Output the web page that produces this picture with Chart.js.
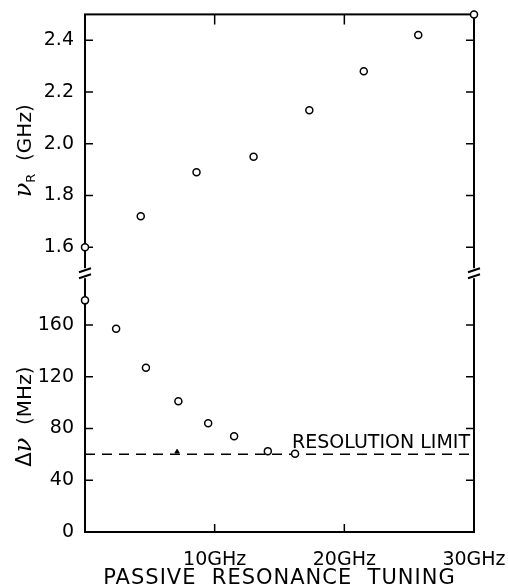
<!DOCTYPE html>
<html>
<head>
<meta charset="utf-8">
<script src="https://cdn.jsdelivr.net/npm/chart.js@4.4.1/dist/chart.umd.min.js"></script>
<style>
  body { margin: 0; background: #fff; }
  canvas { display: block; }
</style>
</head>
<body>
<canvas id="chart" width="508" height="588"></canvas>
<script>
// upper panel: nu_R (GHz) vs passive resonance tuning (GHz)
const tuningTop = [0, 4.3, 8.6, 13.0, 17.3, 21.5, 25.7, 30];
const nuR = [1.6, 1.72, 1.89, 1.95, 2.13, 2.28, 2.42, 2.5];

// lower panel: delta nu (MHz)
const tuningBottom = [0, 2.4, 4.7, 7.2, 9.5, 11.5, 14.1, 16.2];
const deltaNu = [179, 157, 127, 101, 84, 74, 62.5, 60.5];

// small filled mark sitting on the resolution line
const markX = [7.1];
const markY = [62];

const resolutionLimit = 60;

const xTicks = [0, 10, 20, 30];
const topTicks = [1.6, 1.8, 2.0, 2.2, 2.4];
const bottomTicks = [0, 40, 80, 120, 160];

const FONT = "'DejaVu Sans', sans-serif";

const pts = (xs, ys) => xs.map((x, i) => ({ x: x, y: ys[i] }));

// frame, inward ticks, axis breaks and the hand-set labels
const frame = {
  id: 'frame',
  beforeDatasetsDraw(chart) {
    const { ctx, chartArea: a, scales } = chart;
    const x = scales.x, yt = scales.yTop, yb = scales.yBot;
    ctx.save();
    ctx.strokeStyle = '#000';
    ctx.lineWidth = 2;
    ctx.strokeRect(a.left, a.top, a.right - a.left, a.bottom - a.top);

    ctx.lineWidth = 1.5;
    ctx.beginPath();
    xTicks.forEach(v => {
      if (v <= x.min || v >= x.max) return;
      const px = x.getPixelForValue(v);
      ctx.moveTo(px, a.top); ctx.lineTo(px, a.top + 10);
      ctx.moveTo(px, a.bottom); ctx.lineTo(px, a.bottom - 8);
    });
    [[yt, topTicks], [yb, bottomTicks]].forEach(([s, vals]) => {
      vals.forEach(v => {
        if (v <= s.min) return;
        const py = s.getPixelForValue(v);
        ctx.moveTo(a.left, py); ctx.lineTo(a.left + 8, py);
        ctx.moveTo(a.right, py); ctx.lineTo(a.right - 8, py);
      });
    });
    ctx.stroke();

    // break marks where the two scales meet
    const yb0 = yt.bottom;
    [a.left, a.right].forEach(px => {
      ctx.fillStyle = '#fff';
      ctx.fillRect(px - 3, yb0 - 5, 6, 10);
      ctx.beginPath();
      ctx.moveTo(px - 6, yb0 - 1); ctx.lineTo(px + 6, yb0 - 5);
      ctx.moveTo(px - 6, yb0 + 5); ctx.lineTo(px + 6, yb0 + 1);
      ctx.lineWidth = 2;
      ctx.stroke();
    });
    ctx.restore();
  },
  afterDraw(chart) {
    const { ctx, chartArea: a, scales } = chart;
    const yt = scales.yTop, yb = scales.yBot;
    ctx.save();
    ctx.fillStyle = '#000';

    const rotated = (cy, parts) => {
      ctx.save();
      ctx.translate(31, cy);
      ctx.rotate(-Math.PI / 2);
      ctx.textBaseline = 'alphabetic';
      ctx.textAlign = 'left';
      let total = 0;
      parts.forEach(p => { ctx.font = p.font; p.w = ctx.measureText(p.t).width; total += p.w; });
      let cx = -total / 2;
      parts.forEach(p => { ctx.font = p.font; ctx.fillText(p.t, cx, p.dy || 0); cx += p.w; });
      ctx.restore();
    };
    rotated((yt.top + yt.bottom) / 2 + 7, [
      { t: '\u03BD', font: "italic 24px 'DejaVu Serif', serif" },
      { t: 'R', font: '13px ' + FONT, dy: 4 },
      { t: '  (GHz)', font: '20px ' + FONT }
    ]);
    rotated((yb.top + yb.bottom) / 2 + 14, [
      { t: '\u0394', font: '21px ' + FONT },
      { t: '\u03BD', font: "italic 24px 'DejaVu Serif', serif" },
      { t: '  (MHz)', font: '20px ' + FONT }
    ]);

    ctx.font = '19px ' + FONT;
    ctx.textAlign = 'right';
    ctx.textBaseline = 'alphabetic';
    ctx.fillText('RESOLUTION LIMIT', a.right - 4, yb.getPixelForValue(resolutionLimit) - 6);

    ctx.font = '21px ' + FONT;
    ctx.letterSpacing = '1px';
    ctx.textAlign = 'center';
    ctx.fillText('PASSIVE  RESONANCE  TUNING', (a.left + a.right) / 2, 584);
    ctx.restore();
  }
};

new Chart(document.getElementById('chart'), {
  type: 'scatter',
  data: {
    datasets: [
      {
        data: pts(tuningTop, nuR),
        yAxisID: 'yTop',
        pointRadius: 3.5,
        pointBorderWidth: 1.5,
        borderColor: '#000',
        backgroundColor: '#fff',
        clip: false
      },
      {
        data: pts(tuningBottom, deltaNu),
        yAxisID: 'yBot',
        pointRadius: 3.5,
        pointBorderWidth: 1.5,
        borderColor: '#000',
        backgroundColor: '#fff',
        clip: false
      },
      {
        data: pts(markX, markY),
        yAxisID: 'yBot',
        pointStyle: 'triangle',
        pointRadius: 2.5,
        borderColor: '#000',
        backgroundColor: '#000'
      },
      {
        type: 'line',
        data: pts([0, 30], [resolutionLimit, resolutionLimit]),
        yAxisID: 'yBot',
        borderColor: '#000',
        borderWidth: 1.5,
        borderDash: [10, 7],
        pointRadius: 0
      }
    ]
  },
  options: {
    responsive: false,
    animation: false,
    devicePixelRatio: 1,
    layout: { padding: { top: 13, right: 34, left: 0, bottom: 0 } },
    plugins: { legend: { display: false }, tooltip: { enabled: false } },
    scales: {
      x: {
        type: 'linear',
        min: 0,
        max: 30,
        grid: { display: false },
        border: { display: false },
        afterBuildTicks: s => { s.ticks = xTicks.map(v => ({ value: v })); },
        afterFit: s => { s.height = 56; s.paddingLeft = 0; s.paddingRight = 0; },
        ticks: {
          padding: 9,
          color: '#000',
          font: { family: FONT, size: 19 },
          callback: v => (v === 0 ? '' : v + 'GHz')
        }
      },
      yBot: {
        type: 'linear',
        position: 'left',
        stack: 'v',
        stackWeight: 1,
        min: 0,
        max: 200,
        grid: { display: false },
        border: { display: false },
        afterBuildTicks: s => { s.ticks = bottomTicks.map(v => ({ value: v })); },
        afterFit: s => { s.width = 85; },
        ticks: {
          padding: 3,
          color: '#000',
          font: { family: FONT, size: 19 },
          callback: v => String(v)
        }
      },
      yTop: {
        type: 'linear',
        position: 'left',
        stack: 'v',
        stackWeight: 1,
        min: 1.5,
        max: 2.5,
        grid: { display: false },
        border: { display: false },
        afterBuildTicks: s => { s.ticks = topTicks.map(v => ({ value: v })); },
        afterFit: s => { s.width = 85; },
        ticks: {
          padding: 3,
          color: '#000',
          font: { family: FONT, size: 19 },
          callback: v => v.toFixed(1)
        }
      }
    }
  },
  plugins: [frame]
});
</script>
</body>
</html>
